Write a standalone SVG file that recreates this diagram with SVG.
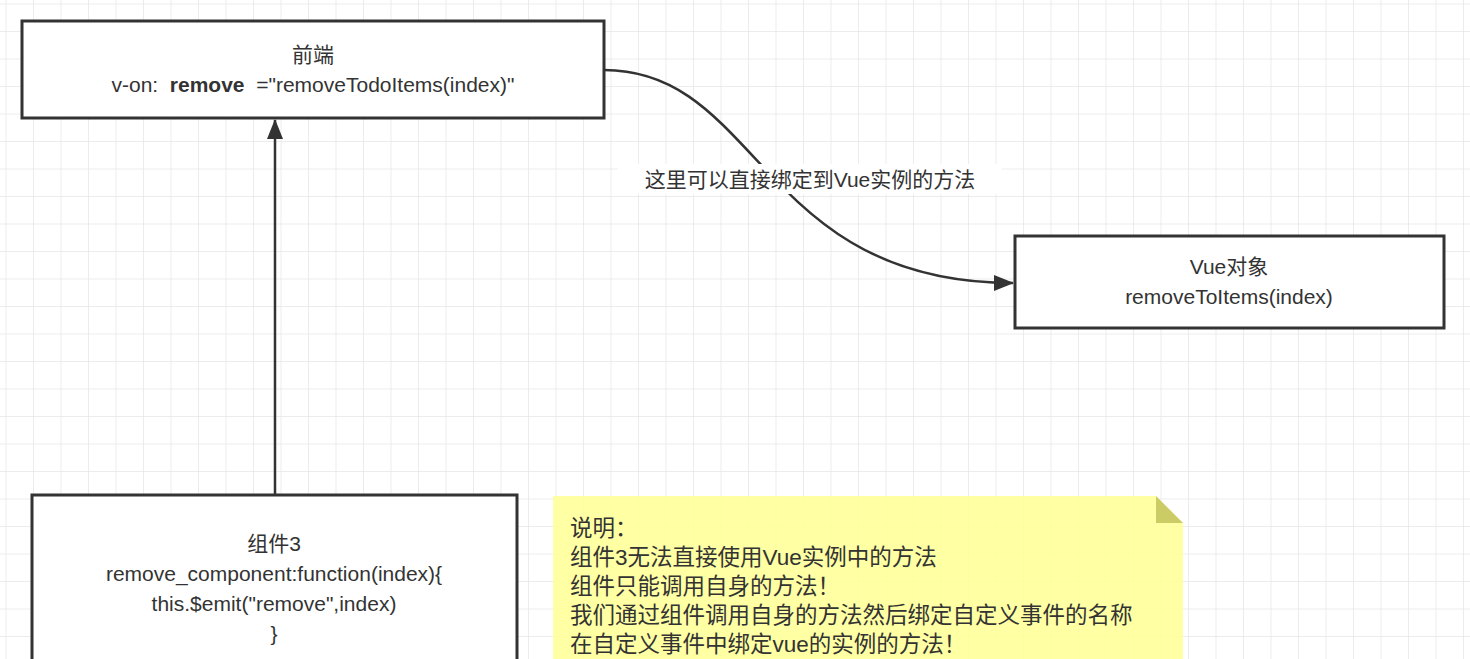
<svg xmlns="http://www.w3.org/2000/svg" width="1470" height="659" viewBox="0 0 1470 659">
<defs>
<pattern id="grid" x="5.5" y="3.5" width="27.5" height="27.5" patternUnits="userSpaceOnUse">
<path d="M0 0H27.5M0 0V27.5" fill="none" stroke="#e6e6e6" stroke-width="1.5"/>
</pattern>
<marker id="arrB" viewBox="0 0 20 20" refX="19" refY="10" markerWidth="20" markerHeight="20" markerUnits="userSpaceOnUse" orient="auto">
<path d="M0 2L20 10L0 18Z" fill="#333"/>
</marker>
</defs>
<style>
text{font-family:"Liberation Sans","Noto Sans CJK SC",sans-serif;font-size:21px;fill:#333;white-space:pre}
.box{fill:#fff;stroke:#333;stroke-width:3}
.c{text-anchor:middle}
.line{fill:none;stroke:#333;stroke-width:2.5}
.n{font-size:22.5px}
</style>
<rect width="1470" height="659" fill="#fff"/>
<rect width="1470" height="659" fill="url(#grid)"/>
<g id="connectors">
<path class="line" d="M275 494V120" marker-end="url(#arrB)"/>
<path class="line" d="M604 70C760 70 760 283 1013 283" marker-end="url(#arrB)"/>
<rect x="618" y="164" width="384" height="30" fill="#fff"/>
<text x="810" y="187" class="c">这里可以直接绑定到Vue实例的方法</text>
</g>
<g id="frontend">
<rect class="box" x="22" y="21" width="582" height="97"/>
<text x="313" y="62" class="c">前端</text>
<text x="313" y="92" class="c">v-on:  <tspan font-weight="bold">remove</tspan>  ="removeTodoItems(index)"</text>
</g>
<g id="vue">
<rect class="box" x="1015" y="236" width="429" height="92"/>
<text x="1229" y="274" class="c">Vue对象</text>
<text x="1229" y="304" class="c">removeToItems(index)</text>
</g>
<g id="component3">
<rect class="box" x="32" y="495" width="485" height="180"/>
<text x="274" y="551" class="c">组件3</text>
<text x="274" y="581" class="c">remove_component:function(index){</text>
<text x="274" y="611" class="c">this.$emit("remove",index)</text>
<text x="274" y="641" class="c">}</text>
</g>
<g id="note">
<path d="M553 496H1156L1183 523V659H553Z" fill="#ffff99" fill-opacity="0.9"/>
<path d="M1156 496V523H1183Z" fill="#cccc66"/>
<text class="n" x="570" y="536">说明：</text>
<text class="n" x="570" y="565">组件3无法直接使用Vue实例中的方法</text>
<text class="n" x="570" y="594">组件只能调用自身的方法！</text>
<text class="n" x="570" y="623">我们通过组件调用自身的方法然后绑定自定义事件的名称</text>
<text class="n" x="570" y="652">在自定义事件中绑定vue的实例的方法！</text>
</g>
</svg>
